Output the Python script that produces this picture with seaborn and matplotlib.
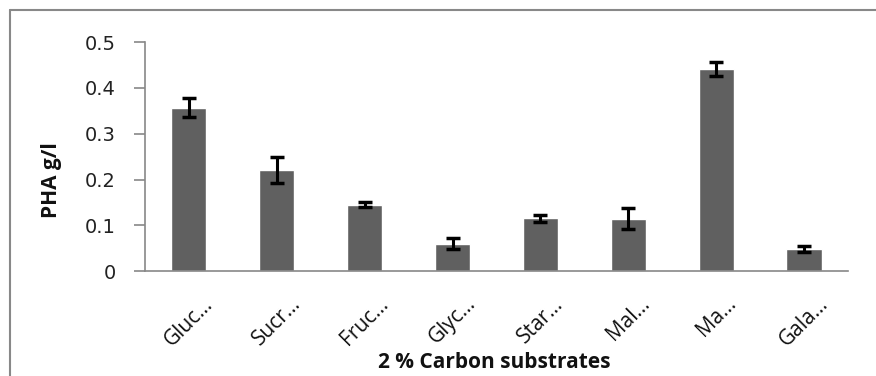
import matplotlib
matplotlib.use("Agg")
import matplotlib.pyplot as plt
from matplotlib.lines import Line2D
import seaborn as sns
import pandas as pd
import numpy as np

labels = ["Gluc…", "Sucr…", "Fruc…", "Glyc…", "Star…", "Mal…", "Ma…", "Gala…"]
values = [0.357, 0.221, 0.145, 0.060, 0.115, 0.114, 0.441, 0.048]
errors = [0.021, 0.028, 0.006, 0.012, 0.007, 0.023, 0.015, 0.007]
yticks = [0, 0.1, 0.2, 0.3, 0.4, 0.5]
ytick_labels = ["0", "0.1", "0.2", "0.3", "0.4", "0.5"]

sns.set_theme(style="white")
plt.rcParams['font.family'] = ['DejaVu Sans']

df = pd.DataFrame({"sub": labels, "val": values})
fig = plt.figure(figsize=(8.76, 3.76), dpi=100)
ax = fig.add_axes([0.1655, 0.279, 0.968 - 0.1655, 0.888 - 0.279])
sns.barplot(data=df, x="sub", y="val", order=labels, color="#606060",
            saturation=1, width=0.4, ax=ax)
ax.errorbar(np.arange(len(labels)), values, yerr=errors, fmt="none",
            ecolor="black", elinewidth=2.2, capsize=4.7, capthick=2.5)
ax.set_xlim(-0.5, len(labels) - 0.5)
ax.set_ylim(0, 0.5)
ax.set_yticks(yticks)
ax.set_yticklabels(ytick_labels)
ax.set_xticks(np.arange(len(labels)))
ax.set_xticklabels(labels)
ax.set_xticks(np.arange(len(labels) + 1) - 0.5, minor=True)
ax.tick_params(axis="x", which="major", length=0, pad=16)
ax.tick_params(axis="x", which="minor", length=8, color="#888888", width=1.2, direction="out")
ax.tick_params(axis="y", length=8, color="#888888", width=1.2, direction="out", left=True, pad=13)
for t in ax.get_yticklabels():
    t.set_fontsize(14)
    t.set_color("#222222")
for t in ax.get_xticklabels():
    t.set_fontsize(15)
    t.set_family("Open Sans")
    t.set_rotation(45)
    t.set_ha("center")
    t.set_va("top")
    t.set_color("#111111")
for s in ["top", "right"]:
    ax.spines[s].set_visible(False)
for s in ["left", "bottom"]:
    ax.spines[s].set_color("#888888")
    ax.spines[s].set_linewidth(1.2)
ax.set_xlabel("")
ax.set_ylabel("")
fig.text(494/876, 1 - 362/376, "2 % Carbon substrates", fontsize=15, fontweight="bold",
         family="Open Sans", ha="center", va="center", color="#111111")
fig.text(51/876, 1 - 180/376, "PHA g/l", fontsize=15, fontweight="bold",
         family="Open Sans", ha="center", va="center", rotation=90, color="#111111")

fig.add_artist(Line2D([10/876, 1.0], [1 - 10/376, 1 - 10/376], color="#888888", lw=1.5, transform=fig.transFigure))
fig.add_artist(Line2D([10/876, 10/876], [0, 1 - 10/376], color="#888888", lw=1.5, transform=fig.transFigure))

fig.savefig("out.png", dpi=100)
